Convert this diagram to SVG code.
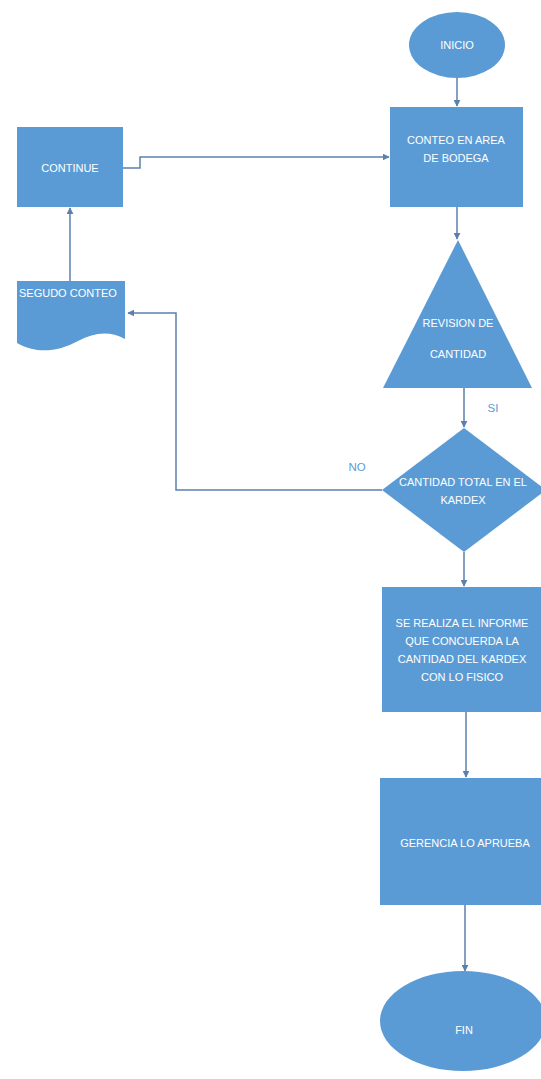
<svg xmlns="http://www.w3.org/2000/svg" width="541" height="1079" viewBox="0 0 541 1079">
  <style>
    .shape { fill: #5b9bd5; }
    .lbl { font-family: "Liberation Sans", Arial, sans-serif; font-size: 11px; fill: #ffffff; text-anchor: middle; }
    .edge { fill: none; stroke: #5b80ad; stroke-width: 1.5; }
    .tag { font-family: "Liberation Sans", Arial, sans-serif; font-size: 11.5px; fill: #5b9bd5; text-anchor: middle; }
  </style>
  <defs>
    <marker id="arrow" viewBox="0 0 10 10" refX="9" refY="5" markerWidth="7" markerHeight="7" orient="auto" markerUnits="userSpaceOnUse">
      <path d="M0,0 L10,5 L0,10 Z" fill="#5b80ad"/>
    </marker>
  </defs>
  <rect width="541" height="1079" fill="#ffffff"/>

  <g id="connectors">
    <path class="edge" d="M457,78 V106" marker-end="url(#arrow)"/>
    <path class="edge" d="M457,207 V239" marker-end="url(#arrow)"/>
    <path class="edge" d="M464,388 V427" marker-end="url(#arrow)"/>
    <path class="edge" d="M464,552 V586" marker-end="url(#arrow)"/>
    <path class="edge" d="M466,712 V777" marker-end="url(#arrow)"/>
    <path class="edge" d="M465,905 V971" marker-end="url(#arrow)"/>
    <path class="edge" d="M382,490 H176 V313 H128" marker-end="url(#arrow)"/>
    <path class="edge" d="M70,281 V208" marker-end="url(#arrow)"/>
    <path class="edge" d="M123,168 H140 V157 H389" marker-end="url(#arrow)"/>
    <text class="tag" x="493" y="412">SI</text>
    <text class="tag" x="357" y="471">NO</text>
  </g>

  <g id="inicio">
    <ellipse class="shape" cx="457" cy="45" rx="48" ry="33"/>
    <text class="lbl" x="457" y="49">INICIO</text>
  </g>

  <g id="conteo">
    <rect class="shape" x="390" y="107" width="133" height="100"/>
    <text class="lbl" x="456" y="144">CONTEO EN AREA</text>
    <text class="lbl" x="456" y="162">DE BODEGA</text>
  </g>

  <g id="continue">
    <rect class="shape" x="17" y="127" width="106" height="80"/>
    <text class="lbl" x="70" y="172">CONTINUE</text>
  </g>

  <g id="segundo-conteo">
    <path class="shape" d="M17,281 H125 V339 C110,331 95,332 78,341 C58,352 36,354 17,343 Z"/>
    <text class="lbl" x="19" y="297" style="text-anchor:start">SEGUDO CONTEO</text>
  </g>

  <g id="revision">
    <polygon class="shape" points="458,240 532,388 383,388"/>
    <text class="lbl" x="458" y="327">REVISION DE</text>
    <text class="lbl" x="458" y="358">CANTIDAD</text>
  </g>

  <g id="cantidad-total">
    <polygon class="shape" points="464,428 546,490 464,552 382,490"/>
    <text class="lbl" x="463" y="486">CANTIDAD TOTAL EN EL</text>
    <text class="lbl" x="463" y="504">KARDEX</text>
  </g>

  <g id="informe">
    <rect class="shape" x="382" y="587" width="159" height="125"/>
    <text class="lbl" x="462" y="627">SE REALIZA EL INFORME</text>
    <text class="lbl" x="462" y="645">QUE CONCUERDA LA</text>
    <text class="lbl" x="462" y="663">CANTIDAD DEL KARDEX</text>
    <text class="lbl" x="462" y="681">CON LO FISICO</text>
  </g>

  <g id="gerencia">
    <rect class="shape" x="380" y="778" width="161" height="127"/>
    <text class="lbl" x="465" y="847">GERENCIA LO APRUEBA</text>
  </g>

  <g id="fin">
    <ellipse class="shape" cx="463" cy="1021" rx="83" ry="50"/>
    <text class="lbl" x="464" y="1034">FIN</text>
  </g>
</svg>
